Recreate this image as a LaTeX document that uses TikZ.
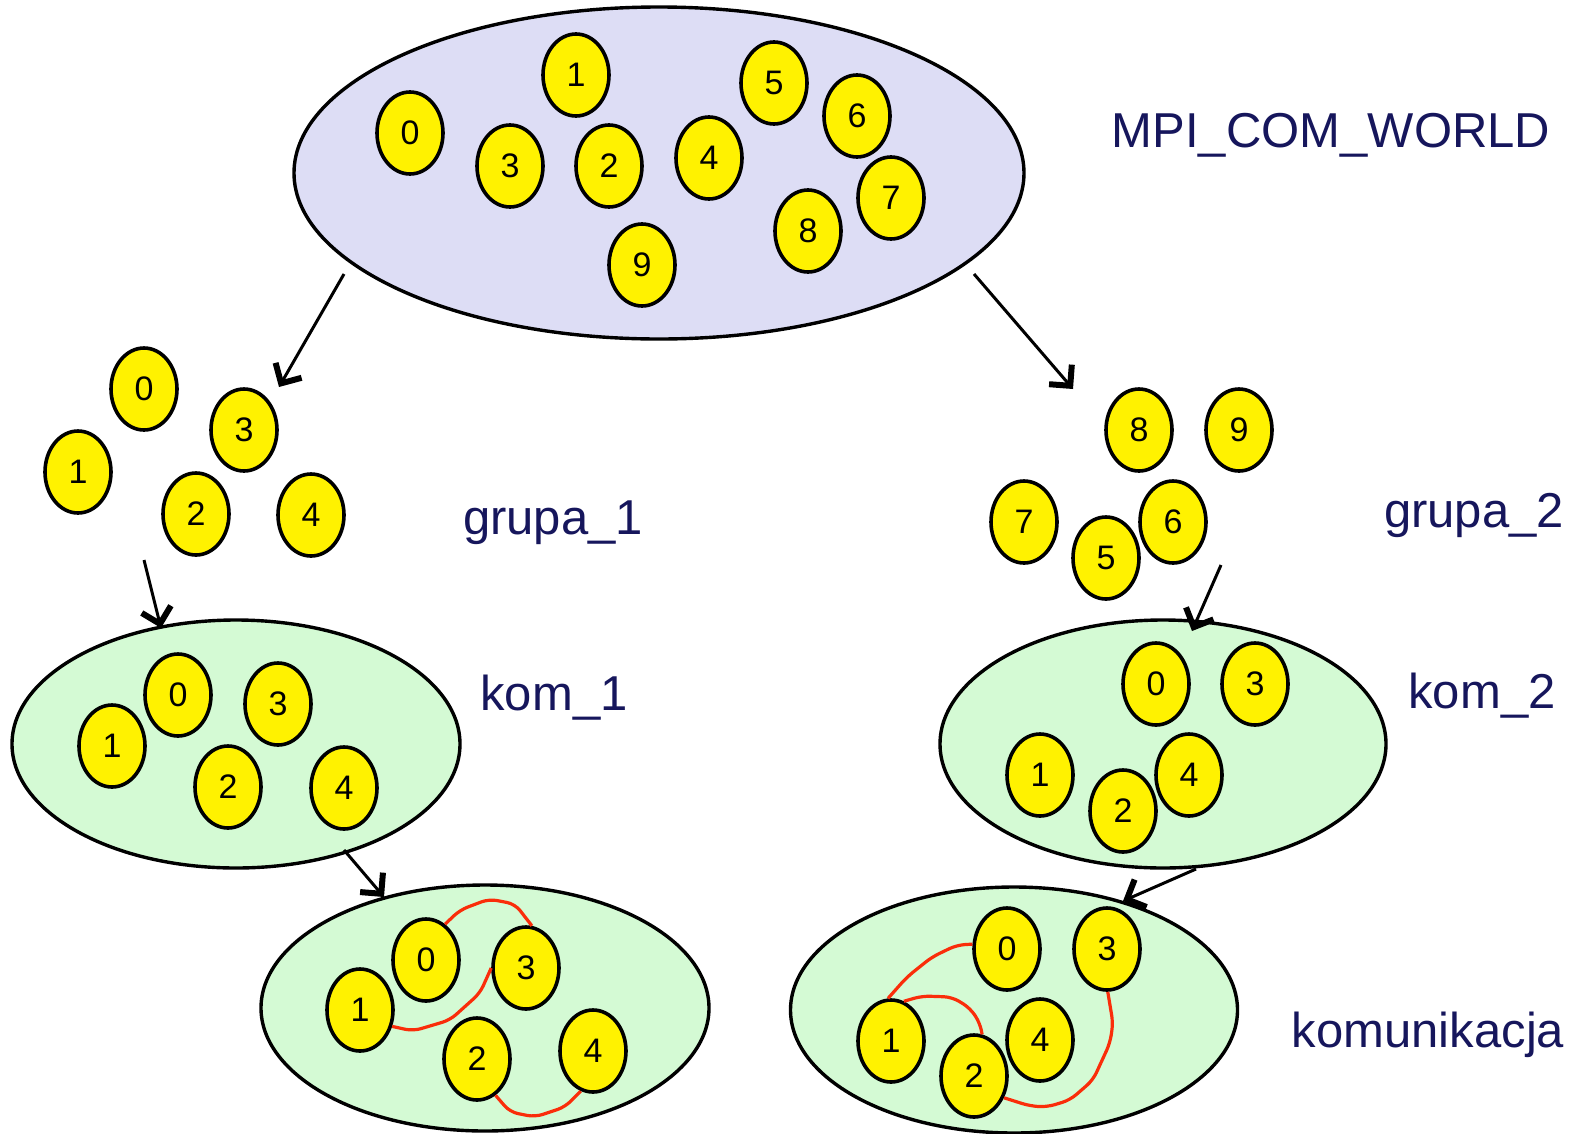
\documentclass[tikz,border=0pt]{standalone}
\usepackage{fontspec}
\setmainfont{Liberation Sans}
\usetikzlibrary{shapes.geometric,arrows.meta}
\definecolor{lav}{RGB}{221,221,245}
\definecolor{mint}{RGB}{212,250,212}
\definecolor{navy}{RGB}{22,22,92}
\definecolor{linkred}{RGB}{250,45,10}
\tikzset{
  proc/.style={ellipse,draw=black,line width=3.6pt,fill=yellow,minimum width=66pt,minimum height=82pt,inner sep=0pt,font=\fontsize{34}{38}\selectfont},
  bigell/.style={ellipse,draw=black,line width=3.4pt,inner sep=0pt},
  lbl/.style={text=navy,font=\fontsize{49}{56}\selectfont,inner sep=0pt},
  arr/.style={line width=3pt,-{Straight Barb[length=15pt,width=30pt,line width=6pt]}},
  link/.style={linkred,line width=3.2pt,rounded corners=8pt}
}
\begin{document}
\begin{tikzpicture}[x=1pt,y=-1pt]
\useasboundingbox (0,0) rectangle (1577,1133);
% top world
\node[bigell,fill=lav,minimum width=730pt,minimum height=332pt] (world) at (659,173) {};
\node[proc] (w0) at (410,133) {0};
\node[proc] (w1) at (576,75) {1};
\node[proc] (w3) at (510,166) {3};
\node[proc] (w2) at (609,166) {2};
\node[proc] (w4) at (709,158) {4};
\node[proc] (w5) at (774,83) {5};
\node[proc] (w6) at (857,116) {6};
\node[proc] (w7) at (891,198) {7};
\node[proc] (w8) at (808,231) {8};
\node[proc] (w9) at (642,265) {9};
\node[lbl] (tworld) at (1331,135) {MPI\_COM\_WORLD};
% group 1
\node[proc] (g0) at (144,389) {0};
\node[proc] (g3) at (244,430) {3};
\node[proc] (g1) at (78,472) {1};
\node[proc] (g2) at (196,514) {2};
\node[proc] (g4) at (311,515) {4};
\node[lbl] (tg1) at (553,523) {grupa\_1};
% group 2
\node[proc] (h8) at (1139,430) {8};
\node[proc] (h9) at (1239,430) {9};
\node[proc] (h7) at (1024,522) {7};
\node[proc] (h6) at (1173,522) {6};
\node[proc] (h5) at (1106,558) {5};
\node[lbl] (tg2) at (1474,515) {grupa\_2};
% kom_1
\node[bigell,fill=mint,minimum width=448pt,minimum height=248pt] (kom1) at (236,744) {};
\node[proc] (k0) at (178,695) {0};
\node[proc] (k3) at (278,704) {3};
\node[proc] (k1) at (112,746) {1};
\node[proc] (k2) at (228,787) {2};
\node[proc] (k4) at (344,788) {4};
\node[lbl] (tk1) at (554,698) {kom\_1};
% kom_2
\node[bigell,fill=mint,minimum width=446pt,minimum height=248pt] (kom2) at (1163,744) {};
\node[proc] (m0) at (1156,684) {0};
\node[proc] (m3) at (1255,684) {3};
\node[proc] (m1) at (1040,775) {1};
\node[proc] (m4) at (1189,775) {4};
\node[proc] (m2) at (1123,811) {2};
\node[lbl] (tk2) at (1482,696) {kom\_2};
% bottom left
\node[bigell,fill=mint,minimum width=448pt,minimum height=246pt] (comA) at (485,1008) {};
\node[proc] (a0) at (426,960) {0};
\node[proc] (a3) at (526,968) {3};
\node[proc] (a1) at (360,1010) {1};
\node[proc] (a2) at (477,1059) {2};
\node[proc] (a4) at (593,1051) {4};
% bottom right
\node[bigell,fill=mint,minimum width=447pt,minimum height=246pt] (comB) at (1014,1010) {};
\node[proc] (b0) at (1007,949) {0};
\node[proc] (b3) at (1107,949) {3};
\node[proc] (b1) at (891,1041) {1};
\node[proc] (b2) at (974,1076) {2};
\node[proc] (b4) at (1040,1040) {4};
\node[lbl] (tkom) at (1428,1035) {komunikacja};
% red links left
\draw[link] (a0.62) -- (460,910) -- (489,899) -- (515,904) -- (a3.82);
\draw[link] (a1.333) -- (413,1031) -- (450,1020) -- (480,993) -- (a3.180);
\draw[link] (a2.297) -- (510,1112) -- (535,1117) -- (565,1107) -- (a4.253);
% red links right
\draw[link] (b0.172) -- (957,945) -- (932,957) -- (907,977) -- (b1.94);
\draw[link] (b1.72) -- (922,996) -- (952,997) -- (970,1008) -- (980,1023) -- (b2.79);
\draw[link] (b3.271) -- (1113,1023) -- (1110,1043) -- (1093,1080) -- (1070,1100) -- (1047,1107) -- (1030,1106) -- (b2.324);
% arrow endpoints
\coordinate (s1) at (344,274); \coordinate (e1) at (279,387);
\coordinate (s2) at (974,274); \coordinate (e2) at (1073,389);
\coordinate (s3) at (144,560); \coordinate (e3) at (161,628);
\coordinate (s4) at (1221,565); \coordinate (e4) at (1192,631);
\coordinate (s5) at (344,850); \coordinate (e5) at (384,897);
\coordinate (s6) at (1196,869); \coordinate (e6) at (1123,901);
\draw[arr] (s1) -- (e1);
\draw[arr] (s2) -- (e2);
\draw[arr] (s3) -- (e3);
\draw[arr] (s4) -- (e4);
\draw[arr] (s5) -- (e5);
\draw[arr] (s6) -- (e6);
\end{tikzpicture}
\end{document}
